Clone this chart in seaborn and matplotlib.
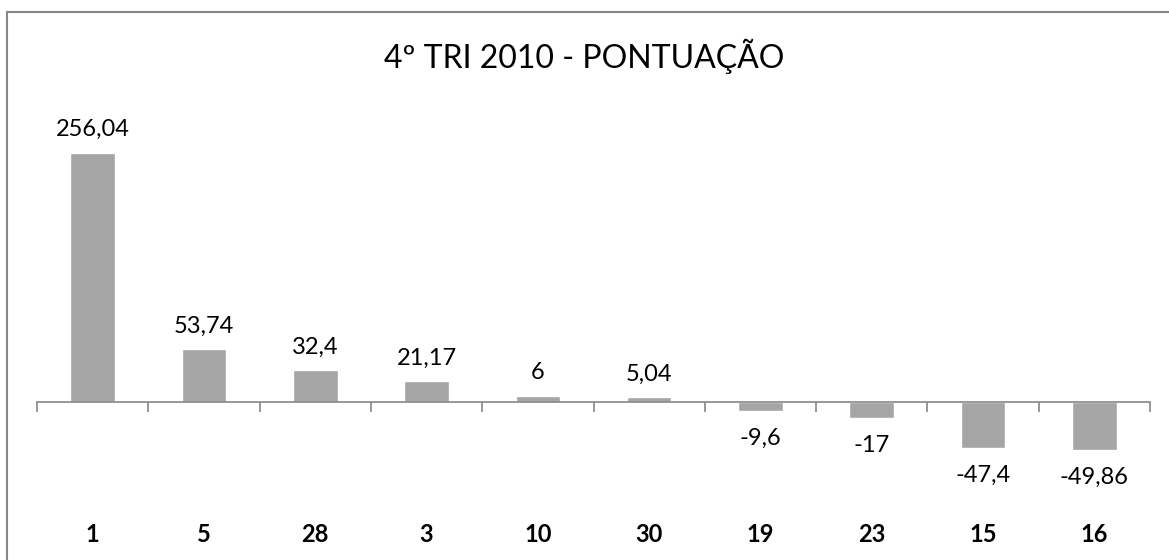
import matplotlib
matplotlib.use("Agg")
import matplotlib.pyplot as plt
import seaborn as sns
import pandas as pd
from matplotlib.patches import Rectangle
from matplotlib.ticker import FixedLocator

categories = ["1", "5", "28", "3", "10", "30", "19", "23", "15", "16"]
values = [256.04, 53.74, 32.4, 21.17, 6, 5.04, -9.6, -17, -47.4, -49.86]
value_labels = ["256,04", "53,74", "32,4", "21,17", "6", "5,04", "-9,6", "-17", "-47,4", "-49,86"]
title = "4º TRI 2010 - PONTUAÇÃO"

sns.set_theme(style="white")
plt.rcParams["font.family"] = ["Lato", "DejaVu Sans"]

W, H = 1169, 560
fig = plt.figure(figsize=(W / 100, H / 100), dpi=100)
fig.patch.set_facecolor("white")

# axes placement (pixels)
x0, x1 = 37, 1150
ytop, ybot = 110, 499
ax = fig.add_axes([x0 / W, 1 - ybot / H, (x1 - x0) / W, (ybot - ytop) / H])

df = pd.DataFrame({"cat": categories, "val": values})
sns.barplot(data=df, x="cat", y="val", color="#A5A5A5", saturation=1,
            width=0.4, ax=ax, order=categories)

ax.set_xlim(-0.5, len(categories) - 0.5)
ax.set_ylim(-100, 300)
ax.set_xlabel("")
ax.set_ylabel("")
ax.set_yticks([])

for s in ["top", "right", "left"]:
    ax.spines[s].set_visible(False)
ax.spines["bottom"].set_position(("data", 0))
ax.spines["bottom"].set_color("#868686")
ax.spines["bottom"].set_linewidth(1.2)
ax.set_xticks([])
ax.xaxis.set_minor_locator(FixedLocator([i - 0.5 for i in range(len(categories) + 1)]))
ax.tick_params(axis="x", which="minor", direction="out", length=7, width=1.2,
               color="#868686", bottom=True)

# category labels at low position
sec = ax.secondary_xaxis(0)
sec.set_xticks(range(len(categories)))
sec.set_xticklabels(categories, fontsize=17, fontweight="bold", color="black")
sec.tick_params(length=0, pad=17)
sec.spines["bottom"].set_visible(False)

# value labels
for i, (v, lab) in enumerate(zip(values, value_labels)):
    if v >= 0:
        ax.annotate(lab, (i, v), xytext=(0, 9), textcoords="offset points",
                    ha="center", va="bottom", fontsize=17, color="black")
    else:
        ax.annotate(lab, (i, v), xytext=(0, -12), textcoords="offset points",
                    ha="center", va="top", fontsize=17, color="black")

fig.text(0.5, 1 - 56 / H, title, ha="center", va="center", fontsize=23, color="black")

# chart border (only top and left visible in reference crop)
fig.add_artist(Rectangle((7 / W, -0.5), 1.5, 0.5 + (H - 12) / H, transform=fig.transFigure,
                         fill=False, edgecolor="#868686", linewidth=1.5))

fig.savefig("out.png", dpi=100, facecolor="white")
